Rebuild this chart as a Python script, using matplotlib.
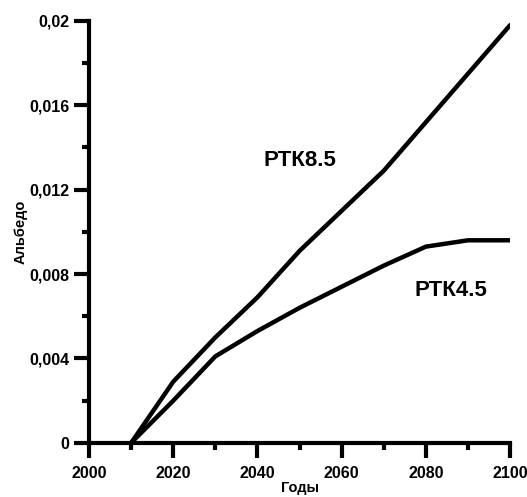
import numpy as np
import matplotlib.pyplot as plt
from matplotlib.ticker import MultipleLocator

plt.rcParams['font.family'] = ['Liberation Sans', 'DejaVu Sans']

years = [2010, 2020, 2030, 2040, 2050, 2060, 2070, 2080, 2090, 2100]
rcp85 = [0, 0.0029, 0.0050, 0.0069, 0.0091, 0.0110, 0.0129, 0.0152, 0.0175, 0.0198]
rcp45 = [0, 0.0020, 0.0041, 0.0053, 0.0064, 0.0074, 0.0084, 0.0093, 0.0096, 0.0096]

xticks = [2000, 2020, 2040, 2060, 2080, 2100]
yticks = [0, 0.004, 0.008, 0.012, 0.016, 0.02]
ylabels = ['0', '0,004', '0,008', '0,012', '0,016', '0,02']

fig = plt.figure(figsize=(5.27, 4.97), dpi=100)
ax = fig.add_axes([0.169, 0.109, 0.799, 0.849])

ax.plot(years, rcp85, color='black', lw=3.2, solid_capstyle='round', solid_joinstyle='round')
ax.plot(years, rcp45, color='black', lw=3.2, solid_capstyle='round', solid_joinstyle='round')

ax.set_xlim(2000, 2100)
ax.set_ylim(0, 0.02)
ax.set_xticks(xticks)
ax.set_xticklabels([str(t) for t in xticks])
ax.set_yticks(yticks)
ax.set_yticklabels(ylabels)
ax.xaxis.set_minor_locator(MultipleLocator(10))
ax.yaxis.set_minor_locator(MultipleLocator(0.002))

for s in ['top', 'right']:
    ax.spines[s].set_visible(False)
for s in ['left', 'bottom']:
    ax.spines[s].set_linewidth(3)
ax.tick_params(which='major', length=11, width=3, labelsize=11.5)
ax.tick_params(axis='x', which='major', pad=6)
ax.tick_params(axis='y', which='major', pad=3)
ax.tick_params(which='minor', length=5, width=3)
for lab in ax.get_xticklabels() + ax.get_yticklabels():
    lab.set_fontweight('bold')

ax.set_xlabel('Годы', fontsize=10.5, fontweight='bold', labelpad=0)
ax.set_ylabel('Альбедо', fontsize=10.5, fontweight='bold', labelpad=1.5)

ax.text(2050, 0.0134, 'РТК8.5', fontsize=16, fontweight='bold', ha='center', va='center')
ax.text(2086, 0.0072, 'РТК4.5', fontsize=16, fontweight='bold', ha='center', va='center')

fig.savefig('out.png', dpi=100)
